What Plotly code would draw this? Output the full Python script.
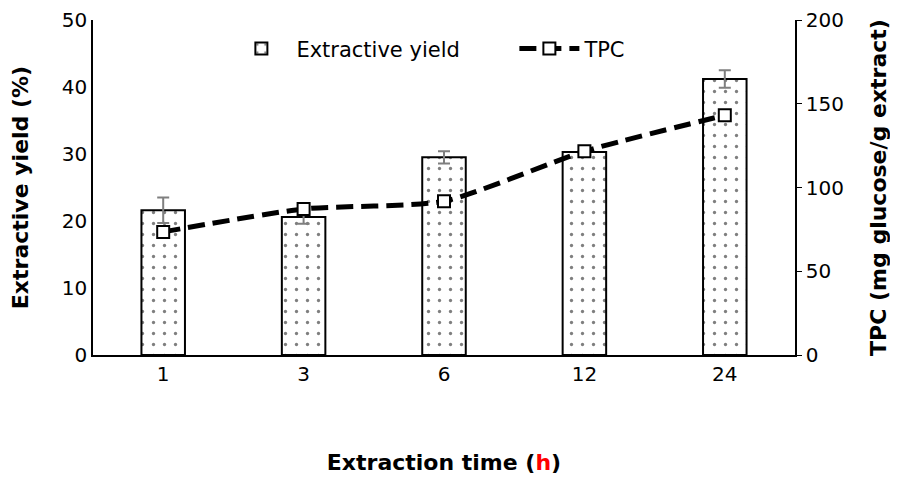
import plotly.graph_objects as go

times = ["1", "3", "6", "12", "24"]
yield_vals = [21.6, 20.6, 29.5, 30.3, 41.2]
yield_err = [1.9, 1.0, 0.9, 0.4, 1.3]
tpc_vals = [73.5, 87.2, 91.8, 121.6, 143.1]

FONT = "DejaVu Sans"

fig = go.Figure()
fig.add_trace(go.Bar(
    x=times, y=yield_vals, name="Extractive yield", width=0.31,
    marker=dict(color="white", line=dict(color="black", width=2),
                pattern=dict(shape=".", fgcolor="black", bgcolor="white", size=11, solidity=0.07)),
    error_y=dict(type="data", array=yield_err, color="#7f7f7f", thickness=2, width=6),
))
fig.add_trace(go.Scatter(
    x=times, y=tpc_vals, name="TPC", yaxis="y2", mode="lines+markers",
    line=dict(color="black", width=5, dash="17px,8px", shape="spline", smoothing=0.6),
    marker=dict(symbol="square", size=12, color="white", line=dict(color="black", width=2)),
))

fig.update_layout(
    width=898, height=478,
    margin=dict(l=85, r=111, t=12, b=131, autoexpand=False),
    paper_bgcolor="white", plot_bgcolor="white",
    font=dict(family=FONT, size=20, color="black"),
    showlegend=True,
    legend=dict(orientation="h", x=0.19, y=0.975, xanchor="left", yanchor="top",
                font=dict(size=21), bgcolor="rgba(0,0,0,0)", entrywidth=213, itemwidth=60),
    xaxis=dict(type="category", showline=True, linecolor="black", linewidth=1.5, automargin=False,
               ticks="", showgrid=False, tickfont=dict(size=20),
               title=dict(text="<b>Extraction time (<span style='color:red'>h</span>)</b>",
                          font=dict(size=22), standoff=70)),
    yaxis=dict(range=[0, 50], dtick=10, showline=True, linecolor="black", linewidth=1.5, automargin=False,
               ticks="", showgrid=False, tickfont=dict(size=20), zeroline=False, ticklabeloverflow="allow",
               title=dict(text="<b>Extractive yield (%)</b>", font=dict(size=22), standoff=34)),
    yaxis2=dict(range=[0, 200], dtick=50, overlaying="y", side="right", showline=True, automargin=False,
                linecolor="black", linewidth=1.5, ticks="outside", ticklen=5, tickcolor="black",
                showgrid=False, zeroline=False, tickfont=dict(size=20), ticklabeloverflow="allow",
                title=dict(text="<b>TPC (mg glucose/g extract)</b>", font=dict(size=22), standoff=28)),
)

fig.write_html("out.html")
